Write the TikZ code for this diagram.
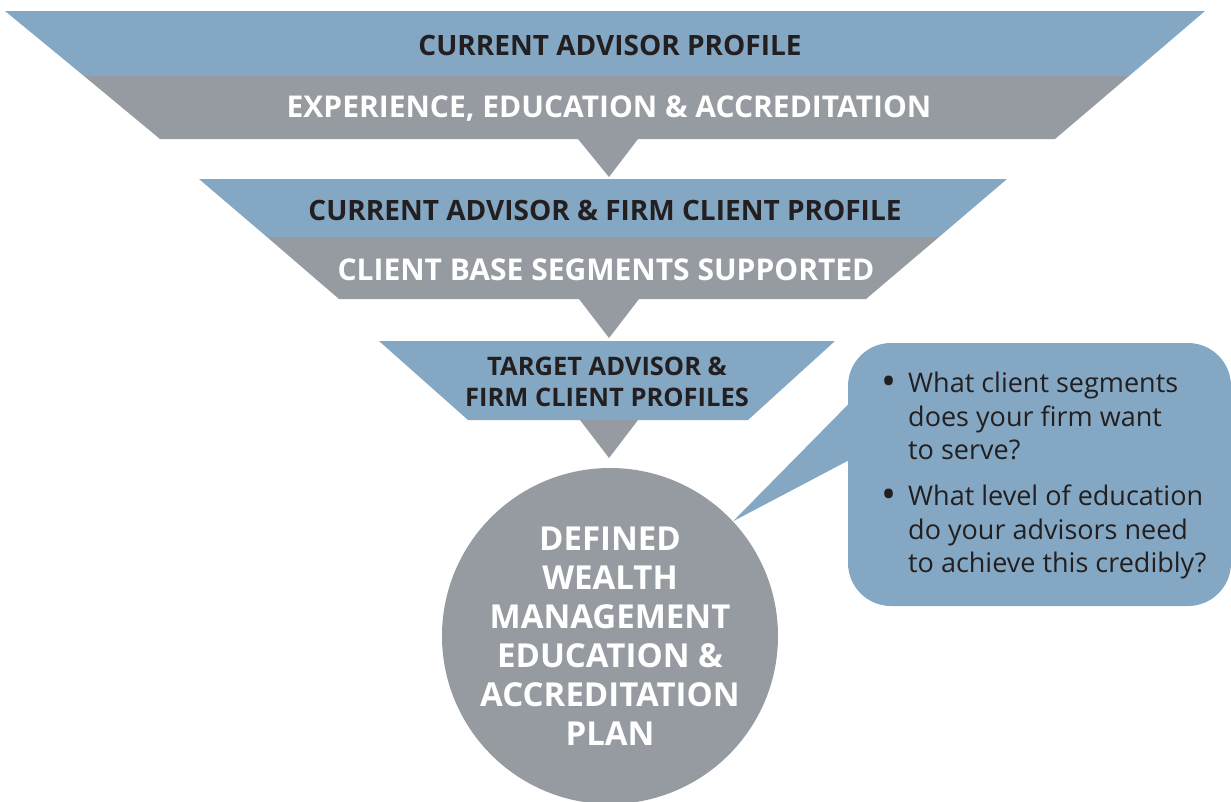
\documentclass[tikz,border=0pt]{standalone}
\usepackage{fontspec}
\setmainfont{Open Sans}
\usetikzlibrary{shapes,positioning}
\definecolor{funnelblue}{RGB}{132,168,195}
\definecolor{funnelgray}{RGB}{149,155,161}
\definecolor{darktext}{RGB}{35,31,32}

\begin{document}
\begin{tikzpicture}[x=1pt, y=-1pt]
        \tikzstyle{band}=[inner sep=0pt]
        \tikzstyle{dark}=[band, text=darktext, font=\bfseries\fontsize{28}{30}\selectfont]
        \tikzstyle{light}=[band, text=white, font=\bfseries\fontsize{30}{32}\selectfont]
        \tikzstyle{question}=[inner sep=0pt, anchor=north west, align=left, text=darktext, font=\fontsize{27}{33.5}\selectfont]
        \tikzstyle{dot}=[inner sep=0pt, text=darktext, font=\fontsize{40}{40}\selectfont]
        \useasboundingbox (0,0) rectangle (1231,801);
        % funnel
        \fill[funnelblue] (5,11) -- (1205,11) -- (1129,76) -- (84,76) -- cycle;
        \fill[funnelgray] (84,76) -- (1129,76) -- (1055,139) -- (160,139) -- cycle;
        \fill[funnelgray] (578,139) -- (638,139) -- (609,177) -- cycle;
        \fill[funnelblue] (199,179) -- (1007,179) -- (939,237) -- (267,237) -- cycle;
        \fill[funnelgray] (267,237) -- (939,237) -- (866,299) -- (339,299) -- cycle;
        \fill[funnelgray] (579,299) -- (639,299) -- (609,338) -- cycle;
        \fill[funnelblue] (379,341) -- (835,341) -- (748,420) -- (468,420) -- cycle;
        \fill[funnelgray] (580,420) -- (638,420) -- (609,458) -- cycle;
        \node[dark]    (profile)  at (610,45)  {CURRENT ADVISOR PROFILE};
        \node[light]   (edu)      at (609,109) {EXPERIENCE, EDUCATION \& ACCREDITATION};
        \node[dark]    (firm)     at (605,210) {CURRENT ADVISOR \& FIRM CLIENT PROFILE};
        \node[light]   (segments) at (606,270) {CLIENT BASE SEGMENTS SUPPORTED};
        \node[dark, align=center, font=\bfseries\fontsize{25.5}{31}\selectfont] (target) at (607,382) {TARGET ADVISOR \&\\FIRM CLIENT PROFILES};
        % plan
        \node[circle, fill=funnelgray, minimum size=336pt, inner sep=0pt] (plan) at (610,636) {};
        \node[light, align=center, font=\bfseries\fontsize{33}{39}\selectfont] (plantext) at (plan) {DEFINED\\WEALTH\\MANAGEMENT\\EDUCATION \&\\ACCREDITATION\\PLAN};
        % questions
        \node[fill=funnelblue, rounded corners=43pt, minimum width=383pt, minimum height=263pt] (qbox) at (1039.5,474.5) {};
        \coordinate (tip) at (plan.43);
        \fill[funnelblue] ([yshift=-62pt]qbox.north west) -- (tip) -- ([yshift=-118pt]qbox.north west) -- ([yshift=-118pt, xshift=20pt]qbox.north west) -- ([yshift=-62pt, xshift=20pt]qbox.north west) -- cycle;
        \node[question] (q1) at (908,372) {What client segments\\does your firm want\\to serve?};
        \node[question] (q2) at (908,485) {What level of education\\do your advisors need\\to achieve this credibly?};
        \node[dot] (b1) at (889,386) {\textbullet};
        \node[dot] (b2) at (889,499) {\textbullet};
\end{tikzpicture}
\end{document}
